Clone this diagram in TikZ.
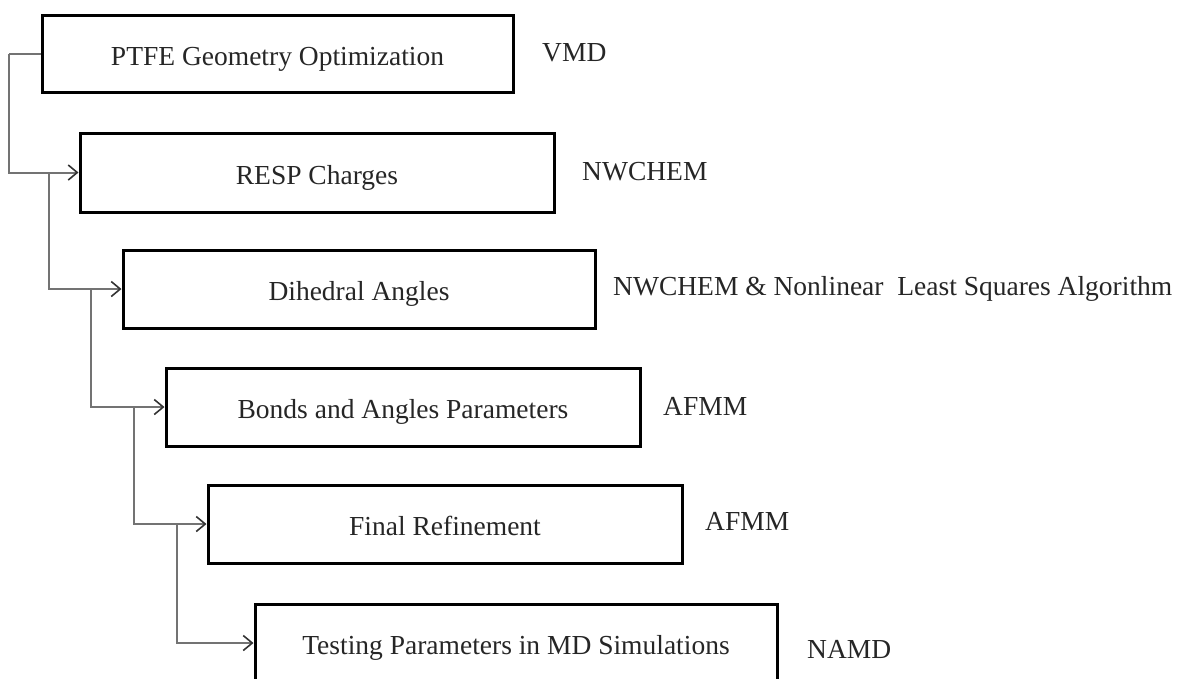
\documentclass[tikz,border=0pt]{standalone}
\usepackage{fontspec}
\setmainfont{Liberation Serif}
\usetikzlibrary{arrows.meta,calc}

\tikzset{
  stepbox/.style={draw=black, line width=3pt, fill=white, inner sep=0pt,
    text height=24pt, text depth=1pt,
    font=\fontsize{27.5}{32}\selectfont, text=black!85},
  toollabel/.style={anchor=west, inner sep=0pt,
    text height=18pt, text depth=2pt,
    font=\fontsize{27.5}{32}\selectfont, text=black!85},
  link/.style={draw=black!55, line width=2pt,
    -{Straight Barb[length=9pt,width=15pt,line width=1.6pt,color=black!80]}},
  linkplain/.style={draw=black!55, line width=2pt},
}

\begin{document}
\begin{tikzpicture}[x=1pt,y=-1pt]
  \useasboundingbox (0,0) rectangle (1191,678);

  % workflow steps
  \node[stepbox, minimum width=471pt, minimum height=77pt] (b1) at (277.5,53.5) {PTFE Geometry Optimization};
  \node[stepbox, minimum width=474pt, minimum height=79pt] (b2) at (317,172.5) {RESP Charges};
  \node[stepbox, minimum width=472pt, minimum height=78pt] (b3) at (359,289) {Dihedral Angles};
  \node[stepbox, minimum width=474pt, minimum height=78pt] (b4) at (403,407) {Bonds and Angles Parameters};
  \node[stepbox, minimum width=474pt, minimum height=78pt] (b5) at (445,524) {Final Refinement};
  \node[stepbox, minimum width=522pt, minimum height=78pt] (b6) at (516,643) {Testing Parameters in MD Simulations};

  % software used at each step
  \node[toollabel] (t1) at (542,53) {VMD};
  \node[toollabel] (t2) at (582,172) {NWCHEM};
  \node[toollabel] (t3) at (613,287) {NWCHEM \& Nonlinear\ \ Least Squares Algorithm};
  \node[toollabel] (t4) at (663,407) {AFMM};
  \node[toollabel] (t5) at (705,522) {AFMM};
  \node[toollabel] (t6) at (807,650) {NAMD};

  % junctions where each branch leaves the previous arrow
  \coordinate (c1) at ($(b1.west)+(-32,0)$);
  \coordinate (j2) at ($(b2.west)+(-30,0)$);
  \coordinate (j3) at ($(b3.west)+(-31,0)$);
  \coordinate (j4) at ($(b4.west)+(-31,0)$);
  \coordinate (j5) at ($(b5.west)+(-30,0)$);

  % stepped connectors
  \draw[linkplain] (b1.west) -- (c1);
  \draw[link] (c1) |- (b2.west);
  \draw[link] (j2) |- (b3.west);
  \draw[link] (j3) |- (b4.west);
  \draw[link] (j4) |- (b5.west);
  \draw[link] (j5) |- (b6.west);
\end{tikzpicture}
\end{document}
